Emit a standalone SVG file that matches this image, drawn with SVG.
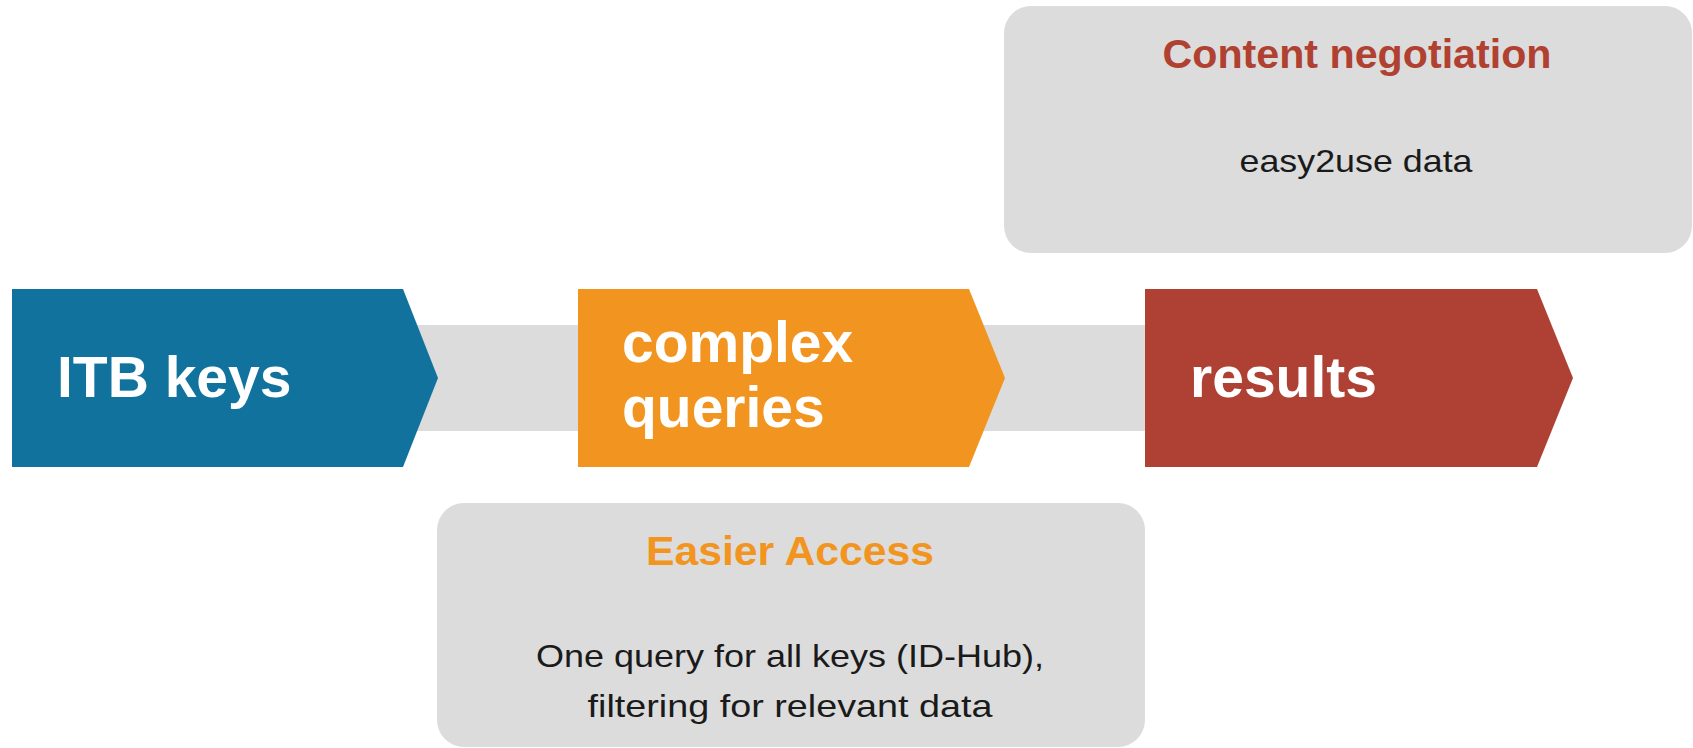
<svg xmlns="http://www.w3.org/2000/svg" width="1693" height="748" viewBox="0 0 1693 748">
<style>
.big{font-family:"Liberation Sans",Arial,sans-serif;font-weight:bold;font-size:57px;fill:#ffffff}
.ttl{font-family:"Liberation Sans",Arial,sans-serif;font-weight:bold;font-size:41px;text-anchor:middle}
.body{font-family:"Liberation Sans",Arial,sans-serif;font-size:32px;fill:#1a1a1a;text-anchor:middle}
.panel{fill:#dcdcdc}
</style>
<rect width="1693" height="748" fill="#ffffff"/>
<g id="connectors">
<rect x="400" y="325" width="750" height="106" fill="#dcdcdc"/>
</g>
<g id="content-negotiation">
<rect class="panel" x="1004" y="6" width="688" height="247" rx="27"/>
<text class="ttl" x="1357" y="68" fill="#b04131" textLength="389" lengthAdjust="spacingAndGlyphs">Content negotiation</text>
<text class="body" x="1356" y="172" textLength="233" lengthAdjust="spacingAndGlyphs">easy2use data</text>
</g>
<g id="easier-access">
<rect class="panel" x="437" y="503" width="708" height="244" rx="27"/>
<text class="ttl" x="790" y="565" fill="#f29520" textLength="288" lengthAdjust="spacingAndGlyphs">Easier Access</text>
<text class="body" x="790" y="667" textLength="508" lengthAdjust="spacingAndGlyphs">One query for all keys (ID-Hub),</text>
<text class="body" x="790" y="717" textLength="405" lengthAdjust="spacingAndGlyphs">filtering for relevant data</text>
</g>
<g id="itb-keys">
<path d="M12,289 L403,289 L438,378 L403,467 L12,467 Z" fill="#11739d"/>
<text class="big" x="57" y="397">ITB keys</text>
</g>
<g id="complex-queries">
<path d="M578,289 L969,289 L1005,378 L969,467 L578,467 Z" fill="#f29520"/>
<text class="big" x="622" y="362">complex</text>
<text class="big" x="622" y="427">queries</text>
</g>
<g id="results">
<path d="M1145,289 L1537,289 L1573,378 L1537,467 L1145,467 Z" fill="#ae4133"/>
<text class="big" x="1190" y="397">results</text>
</g>
</svg>
